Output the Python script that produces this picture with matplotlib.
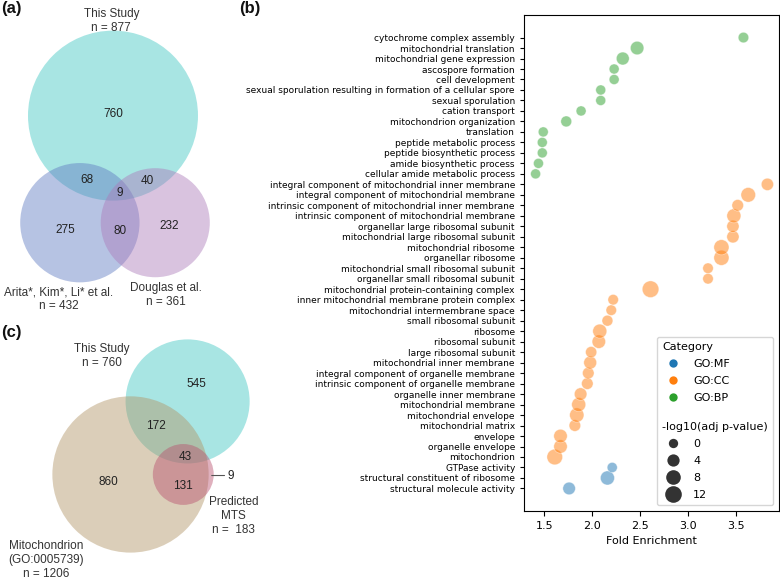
import itertools
import numpy as np
import matplotlib
matplotlib.use('Agg')
import matplotlib.pyplot as plt
from matplotlib.lines import Line2D
from matplotlib.patches import Circle
from matplotlib.offsetbox import VPacker

# ---- (a) three-way overlap of mitochondrial protein sets
a_labels = ['This Study\nn = 877', 'Arita*, Kim*, Li* et al.\nn = 432', 'Douglas et al.\nn = 361']
a_regions = {(1, 0, 0): 760, (0, 1, 0): 275, (0, 0, 1): 232,
             (1, 1, 0): 68, (1, 0, 1): 40, (0, 1, 1): 80, (1, 1, 1): 9}

# ---- (c) overlap with GO annotation and MTS prediction
c_labels = ['This Study\nn = 760', 'Mitochondrion\n(GO:0005739)\nn = 1206', 'Predicted\nMTS\nn =  183']
c_regions = {(1, 0, 0): 545, (0, 1, 0): 860, (0, 0, 1): 9,
             (1, 1, 0): 172, (1, 0, 1): 0, (0, 1, 1): 131, (1, 1, 1): 43}

# ---- (b) GO enrichment, listed bottom to top
mf_terms = ['structural molecule activity', 'structural constituent of ribosome', 'GTPase activity']
mf_fold = [1.76, 2.16, 2.21]
mf_logp = [4.5, 7, 1]

cc_terms = ['mitochondrion', 'organelle envelope', 'envelope', 'mitochondrial matrix',
            'mitochondrial envelope', 'mitochondrial membrane', 'organelle inner membrane',
            'intrinsic component of organelle membrane', 'integral component of organelle membrane',
            'mitochondrial inner membrane', 'large ribosomal subunit', 'ribosomal subunit', 'ribosome',
            'small ribosomal subunit', 'mitochondrial intermembrane space',
            'inner mitochondrial membrane protein complex', 'mitochondrial protein-containing complex',
            'organellar small ribosomal subunit', 'mitochondrial small ribosomal subunit',
            'organellar ribosome', 'mitochondrial ribosome', 'mitochondrial large ribosomal subunit',
            'organellar large ribosomal subunit', 'intrinsic component of mitochondrial membrane',
            'intrinsic component of mitochondrial inner membrane',
            'integral component of mitochondrial membrane',
            'integral component of mitochondrial inner membrane']
cc_fold = [1.61, 1.67, 1.67, 1.82, 1.84, 1.86, 1.88, 1.95, 1.96, 1.98, 1.99, 2.07, 2.08,
           2.16, 2.20, 2.22, 2.61, 3.21, 3.21, 3.35, 3.35, 3.47, 3.47, 3.48, 3.52, 3.63, 3.83]
cc_logp = [10, 6, 6, 3, 7.5, 7, 4.5, 3, 3, 5, 2.5, 6, 7, 2, 1.5, 1.5, 12, 1.5, 1.5, 9, 9,
           4, 4, 7, 3, 8, 4]

bp_terms = ['cellular amide metabolic process', 'amide biosynthetic process',
            'peptide biosynthetic process', 'peptide metabolic process', 'translation',
            'mitochondrion organization', 'cation transport', 'sexual sporulation',
            'sexual sporulation resulting in formation of a cellular spore', 'cell development',
            'ascospore formation', 'mitochondrial gene expression', 'mitochondrial translation',
            'cytochrome complex assembly']
bp_fold = [1.41, 1.44, 1.48, 1.48, 1.49, 1.73, 1.885, 2.09, 2.09, 2.23, 2.23, 2.32, 2.47, 3.58]
bp_logp = [0.8, 0.8, 0.8, 0.8, 0.8, 2, 0.8, 0.8, 0.8, 0.8, 0.8, 5, 6, 1.5]

size_ticks = [0, 4, 8, 12]


def dot_size(v):
    return 45 + 8.2 * np.asarray(v, dtype=float)


def lens_area(r1, r2, d):
    if d >= r1 + r2:
        return 0.0
    if d <= abs(r1 - r2):
        return np.pi * min(r1, r2) ** 2
    a1 = r1 ** 2 * np.arccos((d ** 2 + r1 ** 2 - r2 ** 2) / (2 * d * r1))
    a2 = r2 ** 2 * np.arccos((d ** 2 + r2 ** 2 - r1 ** 2) / (2 * d * r2))
    a3 = 0.5 * np.sqrt((-d + r1 + r2) * (d + r1 - r2) * (d - r1 + r2) * (d + r1 + r2))
    return a1 + a2 - a3


def solve_distance(r1, r2, area):
    lo, hi = abs(r1 - r2), r1 + r2
    for _ in range(80):
        mid = 0.5 * (lo + hi)
        if lens_area(r1, r2, mid) > area:
            lo = mid
        else:
            hi = mid
    return 0.5 * (lo + hi)


def layout3(regions, scale, center):
    """circle 0 on top, 1 bottom-left, 2 bottom-right; areas proportional to counts"""
    tot = [sum(v for k, v in regions.items() if k[i]) for i in range(3)]
    r = np.array([scale * np.sqrt(t) for t in tot])

    def dist(i, j):
        n = sum(v for k, v in regions.items() if k[i] and k[j])
        return solve_distance(r[i], r[j], np.pi * scale ** 2 * n)

    d12, d01, d02 = dist(1, 2), dist(0, 1), dist(0, 2)
    pos = np.zeros((3, 2))
    pos[2] = (d12, 0)
    x = (d01 ** 2 - d02 ** 2 + d12 ** 2) / (2 * d12)
    pos[0] = (x, -np.sqrt(max(d01 ** 2 - x ** 2, 0)))
    lo = (pos - r[:, None]).min(0)
    hi = (pos + r[:, None]).max(0)
    pos += np.array(center) - 0.5 * (lo + hi)
    return pos, r


def region_centroids(pos, r, step=0.4):
    lo = (pos - r[:, None]).min(0)
    hi = (pos + r[:, None]).max(0)
    gx, gy = np.meshgrid(np.arange(lo[0], hi[0], step), np.arange(lo[1], hi[1], step))
    inside = [(gx - x) ** 2 + (gy - y) ** 2 <= rr ** 2 for (x, y), rr in zip(pos, r)]
    out = {}
    for key in itertools.product([0, 1], repeat=3):
        if not any(key):
            continue
        m = np.all([inside[i] == bool(key[i]) for i in range(3)], axis=0)
        if m.any():
            out[key] = (gx[m].mean(), gy[m].mean())
    return out


def draw_venn(ax, regions, labels, colors, scale, center, label_place,
              outside=(), nudge=None):
    nudge = nudge or {}
    pos, r = layout3(regions, scale, center)
    for (x, y), rr, col in zip(pos, r, colors):
        ax.add_patch(Circle((x, y), rr, facecolor=col, edgecolor='none', alpha=0.45))
    cents = region_centroids(pos, r)
    for key, n in regions.items():
        if n == 0 or key not in cents:
            continue
        x, y = cents[key]
        dx, dy = nudge.get(key, (0, 0))
        x, y = x + dx, y + dy
        if key in outside:
            ax.annotate(str(n), xy=(x, y), xytext=(x + 17, y), ha='left', va='center',
                        fontsize=8.5, color='#222222',
                        arrowprops=dict(arrowstyle='-', color='#555555', lw=0.8,
                                        shrinkA=0, shrinkB=1))
        else:
            ax.text(x, y, str(n), ha='center', va='center', fontsize=8.5, color='#222222')
    for (x, y), rr, lab, (dx, dy, va) in zip(pos, r, labels, label_place):
        ax.text(x + dx * rr, y + dy * rr, lab, ha='center', va=va, fontsize=8.5,
                color='#333333', linespacing=1.2)


fig = plt.figure(figsize=(7.8, 5.8), dpi=100)

# venn panels drawn on a full-figure canvas in pixel units
ax_v = fig.add_axes([0, 0, 1, 1])
ax_v.set_xlim(0, 780)
ax_v.set_ylim(580, 0)
ax_v.axis('off')
plt.rcParams['font.family'] = ['Liberation Sans', 'DejaVu Sans']

draw_venn(ax_v, a_regions, a_labels, ['#3ec7c3', '#5f7ac1', '#ab7aba'],
          scale=2.87, center=(115, 156.5),
          label_place=[(-0.02, -0.965, 'bottom'), (-0.36, 1.07, 'top'), (0.2, 1.09, 'top')],
          nudge={(1, 0, 0): (0, 8), (0, 1, 1): (0, 3), (0, 1, 0): (0, -3), (0, 0, 1): (0, -3)})
draw_venn(ax_v, c_regions, c_labels, ['#3ec7c3', '#b19465', '#b8506e'],
          scale=2.25, center=(151, 446),
          label_place=[(-1.38, -0.53, 'bottom'), (-1.08, 0.84, 'top'), (1.65, 0.72, 'top')],
          outside={(0, 0, 1)},
          nudge={(1, 0, 0): (0, -6), (0, 1, 0): (-6, -2), (1, 1, 0): (-4, 1),
                 (1, 1, 1): (1, 3), (0, 1, 1): (2, 5)})

for lab, x, y in [('(a)', 1, 1), ('(b)', 239, 1), ('(c)', 1, 325)]:
    ax_v.text(x, y, lab, ha='left', va='top', fontsize=12, fontweight='bold', color='#111111')

plt.rcParams['font.family'] = ['DejaVu Sans']

# ---- (b) dot plot
ax = fig.add_axes([524 / 780, 69 / 580, 255 / 780, 496 / 580])
cat_colors = {'GO:MF': '#1f77b4', 'GO:CC': '#ff7f0e', 'GO:BP': '#2ca02c'}
for cat, terms, fold, logp in [('GO:MF', mf_terms, mf_fold, mf_logp),
                               ('GO:CC', cc_terms, cc_fold, cc_logp),
                               ('GO:BP', bp_terms, bp_fold, bp_logp)]:
    ax.scatter(fold, terms, s=dot_size(logp), color=cat_colors[cat], alpha=0.5,
               edgecolor='white', linewidth=0.5)

ax.tick_params(axis='y', labelsize=6.5, length=3)
ax.tick_params(axis='x', labelsize=8, length=3.5)
ax.set_xlabel('Fold Enrichment', fontsize=8)

handles = [Line2D([], [], visible=False, label='Category')]
for cat, col in cat_colors.items():
    handles.append(Line2D([], [], linestyle='none', marker='o', markersize=6,
                          color=col, markeredgewidth=0, label=cat))
handles.append(Line2D([], [], visible=False, label='\n-log10(adj p-value)'))
for v in size_ticks:
    handles.append(Line2D([], [], linestyle='none', marker='o',
                          markersize=np.sqrt(dot_size(v)), color='0.2',
                          markeredgewidth=0, label=str(v)))
leg = ax.legend(handles=handles, loc='lower right', fontsize=8,
                labelspacing=0.63, borderpad=0.5)
# subtitles without handle space
for hpack in leg.findobj(VPacker)[0].get_children():
    draw_area, text_area = hpack.get_children()
    if not all(a.get_visible() for a in draw_area.get_children()):
        draw_area.set_width(0)
        hpack.sep = 0

fig.savefig('out.png', dpi=100)
